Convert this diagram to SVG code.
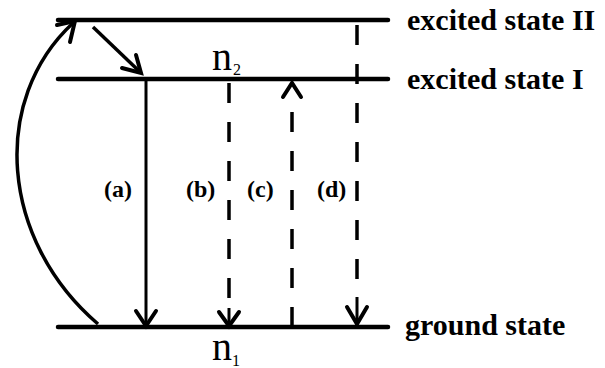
<svg xmlns="http://www.w3.org/2000/svg" width="605" height="368" viewBox="0 0 605 368">
<style>
.lvl{stroke:#000;stroke-width:4.5;fill:none;stroke-linecap:round}
.ln{stroke:#000;stroke-width:3;fill:none}
.dash{stroke:#000;stroke-width:3.5;fill:none;stroke-dasharray:20 19}
.head{stroke:#000;stroke-width:4;fill:none;stroke-linecap:round;stroke-linejoin:miter}
.big{font-family:"Liberation Serif","Times New Roman",serif;font-weight:bold;font-size:30px;fill:#000}
.lab{font-family:"Liberation Serif","Times New Roman",serif;font-weight:bold;font-size:24px;fill:#000}
.n{font-family:"Liberation Serif","Times New Roman",serif;font-size:40px;fill:#000}
.sub{font-family:"Liberation Serif","Times New Roman",serif;font-size:16px;fill:#000}
</style>
<rect width="605" height="368" fill="#fff"/>
<g id="excited-state-II">
<line class="lvl" x1="58" y1="20" x2="388" y2="20"/>
<text class="big" x="407" y="30">excited state II</text>
</g>
<g id="excited-state-I">
<line class="lvl" x1="58" y1="79" x2="388" y2="79"/>
<text class="big" x="407" y="89">excited state I</text>
<text class="n" x="212" y="70">n</text>
<text class="sub" x="233" y="75">2</text>
</g>
<g id="ground-state">
<line class="lvl" x1="58" y1="327" x2="388" y2="327"/>
<text class="big" x="405" y="335">ground state</text>
<text class="n" x="212" y="360">n</text>
<text class="sub" x="232" y="366">1</text>
</g>
<g id="connectors">
<path class="ln" style="stroke-width:3.5" d="M98 324 C0 240 -10 100 73 23"/>
<polyline class="head" points="57,25 75,21 70,42"/>
<line class="ln" style="stroke-width:3.5" x1="93" y1="27" x2="139" y2="71"/>
<polyline class="head" points="122,68 141,73 136,55"/>
<line class="ln" x1="146" y1="79" x2="146" y2="325"/>
<polyline class="head" points="136,311 146,326 156,311"/>
<line class="dash" x1="229" y1="83" x2="229" y2="300"/>
<line class="ln" x1="229" y1="308" x2="229" y2="325"/>
<polyline class="head" points="219,312 229,326 239,312"/>
<line class="dash" x1="292" y1="327" x2="292" y2="110"/>
<polyline class="head" points="283,97 292,83 301,97"/>
<line class="dash" x1="357" y1="25" x2="357" y2="290"/>
<line class="ln" x1="357" y1="297" x2="357" y2="325"/>
<polyline class="head" points="347,307 357,324 367,307"/>
</g>
<g id="labels">
<text class="lab" x="104" y="197">(a)</text>
<text class="lab" x="186" y="197">(b)</text>
<text class="lab" x="247" y="197">(c)</text>
<text class="lab" x="317" y="197">(d)</text>
</g>
</svg>
